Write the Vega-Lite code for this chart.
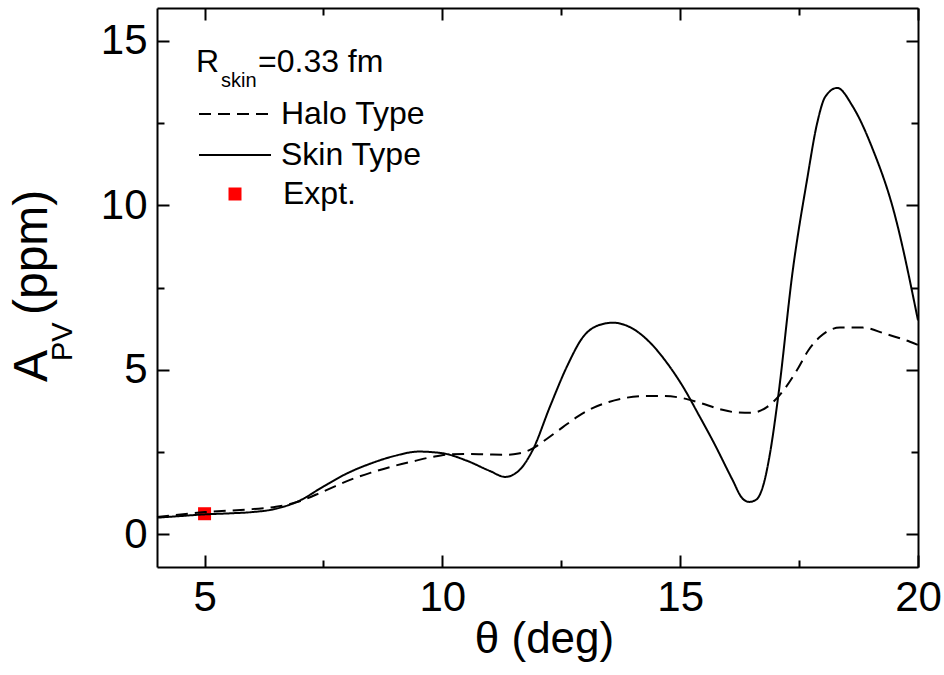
{
  "$schema": "https://vega.github.io/schema/vega-lite/v6.json",
  "width": 761,
  "height": 559,
  "autosize": {"type": "none"},
  "padding": {"left": 157, "top": 8, "right": 26, "bottom": 108},
  "background": "white",
  "config": {
    "view": {"stroke": null},
    "font": "Liberation Sans",
    "axis": {
      "grid": false,
      "domainColor": "black",
      "domainWidth": 2,
      "tickColor": "black",
      "tickWidth": 2,
      "labelColor": "black",
      "labelFont": "Liberation Sans",
      "labelFontSize": 42,
      "labelFlush": false,
      "labelOverlap": false,
      "labelPadding": 22,
      "titleColor": "black",
      "titleFont": "Liberation Sans",
      "titleFontWeight": "normal"
    },
    "legend": {"labelFont": "Liberation Sans", "labelFontSize": 32, "labelColor": "black", "padding": 0, "labelLimit": 500}
  },
  "datasets": {
    "curves": [
      {"theta": 4.0, "apv": 0.50, "series": "Skin Type"},
      {"theta": 4.5, "apv": 0.55, "series": "Skin Type"},
      {"theta": 5.0, "apv": 0.60, "series": "Skin Type"},
      {"theta": 5.5, "apv": 0.63, "series": "Skin Type"},
      {"theta": 6.0, "apv": 0.67, "series": "Skin Type"},
      {"theta": 6.5, "apv": 0.77, "series": "Skin Type"},
      {"theta": 7.0, "apv": 1.02, "series": "Skin Type"},
      {"theta": 7.5, "apv": 1.45, "series": "Skin Type"},
      {"theta": 8.0, "apv": 1.85, "series": "Skin Type"},
      {"theta": 8.5, "apv": 2.15, "series": "Skin Type"},
      {"theta": 9.0, "apv": 2.38, "series": "Skin Type"},
      {"theta": 9.5, "apv": 2.51, "series": "Skin Type"},
      {"theta": 10.0, "apv": 2.46, "series": "Skin Type"},
      {"theta": 10.5, "apv": 2.24, "series": "Skin Type"},
      {"theta": 11.0, "apv": 1.92, "series": "Skin Type"},
      {"theta": 11.32, "apv": 1.74, "series": "Skin Type"},
      {"theta": 11.6, "apv": 1.92, "series": "Skin Type"},
      {"theta": 11.9, "apv": 2.56, "series": "Skin Type"},
      {"theta": 12.26, "apv": 3.87, "series": "Skin Type"},
      {"theta": 12.62, "apv": 5.10, "series": "Skin Type"},
      {"theta": 12.96, "apv": 6.00, "series": "Skin Type"},
      {"theta": 13.3, "apv": 6.36, "series": "Skin Type"},
      {"theta": 13.59, "apv": 6.43, "series": "Skin Type"},
      {"theta": 14.0, "apv": 6.25, "series": "Skin Type"},
      {"theta": 14.37, "apv": 5.82, "series": "Skin Type"},
      {"theta": 14.7, "apv": 5.25, "series": "Skin Type"},
      {"theta": 15.06, "apv": 4.48, "series": "Skin Type"},
      {"theta": 15.4, "apv": 3.60, "series": "Skin Type"},
      {"theta": 15.7, "apv": 2.80, "series": "Skin Type"},
      {"theta": 16.1, "apv": 1.65, "series": "Skin Type"},
      {"theta": 16.3, "apv": 1.10, "series": "Skin Type"},
      {"theta": 16.45, "apv": 0.98, "series": "Skin Type"},
      {"theta": 16.6, "apv": 1.05, "series": "Skin Type"},
      {"theta": 16.75, "apv": 1.50, "series": "Skin Type"},
      {"theta": 16.89, "apv": 2.47, "series": "Skin Type"},
      {"theta": 17.06, "apv": 4.18, "series": "Skin Type"},
      {"theta": 17.37, "apv": 8.05, "series": "Skin Type"},
      {"theta": 17.67, "apv": 10.8, "series": "Skin Type"},
      {"theta": 17.88, "apv": 12.5, "series": "Skin Type"},
      {"theta": 18.05, "apv": 13.3, "series": "Skin Type"},
      {"theta": 18.3, "apv": 13.57, "series": "Skin Type"},
      {"theta": 18.63, "apv": 13.0, "series": "Skin Type"},
      {"theta": 19.05, "apv": 11.7, "series": "Skin Type"},
      {"theta": 19.48, "apv": 9.88, "series": "Skin Type"},
      {"theta": 20.0, "apv": 6.5, "series": "Skin Type"},
      {"theta": 4.0, "apv": 0.52, "series": "Halo Type"},
      {"theta": 5.0, "apv": 0.67, "series": "Halo Type"},
      {"theta": 6.0, "apv": 0.76, "series": "Halo Type"},
      {"theta": 6.5, "apv": 0.83, "series": "Halo Type"},
      {"theta": 7.0, "apv": 1.00, "series": "Halo Type"},
      {"theta": 7.5, "apv": 1.30, "series": "Halo Type"},
      {"theta": 8.06, "apv": 1.65, "series": "Halo Type"},
      {"theta": 8.5, "apv": 1.87, "series": "Halo Type"},
      {"theta": 8.9, "apv": 2.04, "series": "Halo Type"},
      {"theta": 9.4, "apv": 2.22, "series": "Halo Type"},
      {"theta": 9.8, "apv": 2.35, "series": "Halo Type"},
      {"theta": 10.2, "apv": 2.43, "series": "Halo Type"},
      {"theta": 10.6, "apv": 2.44, "series": "Halo Type"},
      {"theta": 11.0, "apv": 2.42, "series": "Halo Type"},
      {"theta": 11.36, "apv": 2.41, "series": "Halo Type"},
      {"theta": 11.6, "apv": 2.45, "series": "Halo Type"},
      {"theta": 11.84, "apv": 2.56, "series": "Halo Type"},
      {"theta": 12.2, "apv": 2.90, "series": "Halo Type"},
      {"theta": 12.54, "apv": 3.26, "series": "Halo Type"},
      {"theta": 12.85, "apv": 3.58, "series": "Halo Type"},
      {"theta": 13.17, "apv": 3.84, "series": "Halo Type"},
      {"theta": 13.5, "apv": 4.02, "series": "Halo Type"},
      {"theta": 13.88, "apv": 4.15, "series": "Halo Type"},
      {"theta": 14.3, "apv": 4.20, "series": "Halo Type"},
      {"theta": 14.64, "apv": 4.20, "series": "Halo Type"},
      {"theta": 15.0, "apv": 4.15, "series": "Halo Type"},
      {"theta": 15.4, "apv": 4.00, "series": "Halo Type"},
      {"theta": 15.84, "apv": 3.80, "series": "Halo Type"},
      {"theta": 16.2, "apv": 3.70, "series": "Halo Type"},
      {"theta": 16.5, "apv": 3.69, "series": "Halo Type"},
      {"theta": 16.83, "apv": 3.87, "series": "Halo Type"},
      {"theta": 17.1, "apv": 4.24, "series": "Halo Type"},
      {"theta": 17.46, "apv": 5.00, "series": "Halo Type"},
      {"theta": 17.7, "apv": 5.60, "series": "Halo Type"},
      {"theta": 17.94, "apv": 6.00, "series": "Halo Type"},
      {"theta": 18.36, "apv": 6.28, "series": "Halo Type"},
      {"theta": 18.84, "apv": 6.28, "series": "Halo Type"},
      {"theta": 19.3, "apv": 6.10, "series": "Halo Type"},
      {"theta": 19.83, "apv": 5.85, "series": "Halo Type"},
      {"theta": 20.0, "apv": 5.75, "series": "Halo Type"}
    ],
    "expt": [
      {"theta": 5.0, "apv": 0.62, "series": "Expt."}
    ]
  },
  "resolve": {"axis": {"x": "independent", "y": "independent"}},
  "layer": [
    {
      "data": {"name": "expt"},
      "mark": {"type": "point", "filled": true, "color": "#ff0000", "opacity": 1, "size": 169},
      "encoding": {
        "x": {
          "field": "theta", "type": "quantitative",
          "scale": {"domain": [4, 20], "nice": false, "zero": false},
          "axis": {
            "orient": "top", "values": [5, 7.5, 10, 12.5, 15, 17.5, 20], "labels": false, "title": null,
            "tickSize": {"condition": {"test": "datum.value % 5 === 0", "value": -12}, "value": -7}
          }
        },
        "y": {
          "field": "apv", "type": "quantitative",
          "scale": {"domain": [-1, 16], "nice": false, "zero": false},
          "axis": {
            "orient": "right", "values": [0, 2.5, 5, 7.5, 10, 12.5, 15], "labels": false, "title": null,
            "tickSize": {"condition": {"test": "datum.value % 5 === 0", "value": -12}, "value": -7}
          }
        },
        "shape": {
          "field": "series", "type": "nominal",
          "scale": {"domain": ["Expt."], "range": ["square"]},
          "legend": {
            "orient": "none", "legendX": 62, "legendY": 171, "title": null,
            "symbolSize": 169, "symbolFillColor": "#ff0000", "symbolStrokeColor": "#ff0000", "symbolStrokeWidth": 0,
            "symbolOpacity": 1, "labelOffset": 32, "clipHeight": 30, "labelBaseline": "middle"
          }
        }
      }
    },
    {
      "data": {"name": "curves"},
      "mark": {"type": "line", "interpolate": "monotone", "strokeWidth": 2, "color": "black"},
      "encoding": {
        "x": {
          "field": "theta", "type": "quantitative",
          "scale": {"domain": [4, 20], "nice": false, "zero": false},
          "axis": {
            "orient": "bottom", "values": [5, 7.5, 10, 12.5, 15, 17.5, 20],
            "labelExpr": "datum.value % 5 === 0 ? datum.label : ''",
            "tickSize": {"condition": {"test": "datum.value % 5 === 0", "value": -12}, "value": -7},
            "title": "θ (deg)", "titleFontSize": 44, "titleX": 387, "titleY": 85,
            "titleAlign": "center", "titleBaseline": "alphabetic", "titleAnchor": "start"
          }
        },
        "y": {
          "field": "apv", "type": "quantitative",
          "scale": {"domain": [-1, 16], "nice": false, "zero": false},
          "axis": {
            "orient": "left", "values": [0, 2.5, 5, 7.5, 10, 12.5, 15],
            "labelExpr": "datum.value % 5 === 0 ? datum.label : ''",
            "tickSize": {"condition": {"test": "datum.value % 5 === 0", "value": -12}, "value": -7},
            "title": null
          }
        },
        "strokeDash": {
          "field": "series", "type": "nominal",
          "scale": {"domain": ["Halo Type", "Skin Type"], "range": [[12, 7], [1, 0]]},
          "legend": {
            "orient": "none", "legendX": 41, "legendY": 91, "title": null,
            "symbolType": "stroke", "symbolSize": 5184, "symbolStrokeWidth": 2, "symbolStrokeColor": "black",
            "labelOffset": 9, "clipHeight": 30, "rowPadding": 9, "labelBaseline": "middle"
          }
        }
      }
    },
    {
      "data": {"values": [{}]},
      "mark": {"type": "text", "text": "R", "fontSize": 32, "align": "left", "baseline": "alphabetic", "dx": 39, "dy": 64, "color": "black", "font": "Liberation Sans"},
      "encoding": {"x": {"datum": 4, "type": "quantitative", "axis": null}, "y": {"datum": 16, "type": "quantitative", "axis": null}}
    },
    {
      "data": {"values": [{}]},
      "mark": {"type": "text", "text": "skin", "fontSize": 20, "align": "left", "baseline": "alphabetic", "dx": 64, "dy": 79, "color": "black", "font": "Liberation Sans"},
      "encoding": {"x": {"datum": 4, "type": "quantitative", "axis": null}, "y": {"datum": 16, "type": "quantitative", "axis": null}}
    },
    {
      "data": {"values": [{}]},
      "mark": {"type": "text", "text": "=0.33 fm", "fontSize": 32, "align": "left", "baseline": "alphabetic", "dx": 101, "dy": 64, "color": "black", "font": "Liberation Sans"},
      "encoding": {"x": {"datum": 4, "type": "quantitative", "axis": null}, "y": {"datum": 16, "type": "quantitative", "axis": null}}
    },
    {
      "data": {"values": [{}]},
      "mark": {"type": "text", "text": "A", "fontSize": 48, "angle": 270, "align": "left", "baseline": "alphabetic", "dx": -94.5, "dy": -110, "color": "black", "font": "Liberation Sans"},
      "encoding": {"x": {"datum": 4, "type": "quantitative", "axis": null}, "y": {"datum": 7.5, "type": "quantitative", "axis": null}}
    },
    {
      "data": {"values": [{}]},
      "mark": {"type": "text", "text": "PV", "fontSize": 29, "angle": 270, "align": "left", "baseline": "alphabetic", "dx": -73.5, "dy": -85, "color": "black", "font": "Liberation Sans"},
      "encoding": {"x": {"datum": 4, "type": "quantitative", "axis": null}, "y": {"datum": 7.5, "type": "quantitative", "axis": null}}
    },
    {
      "data": {"values": [{}]},
      "mark": {"type": "text", "text": "(ppm)", "fontSize": 48, "angle": 270, "align": "left", "baseline": "alphabetic", "dx": -27.5, "dy": -110, "color": "black", "font": "Liberation Sans"},
      "encoding": {"x": {"datum": 4, "type": "quantitative", "axis": null}, "y": {"datum": 7.5, "type": "quantitative", "axis": null}}
    }
  ]
}
